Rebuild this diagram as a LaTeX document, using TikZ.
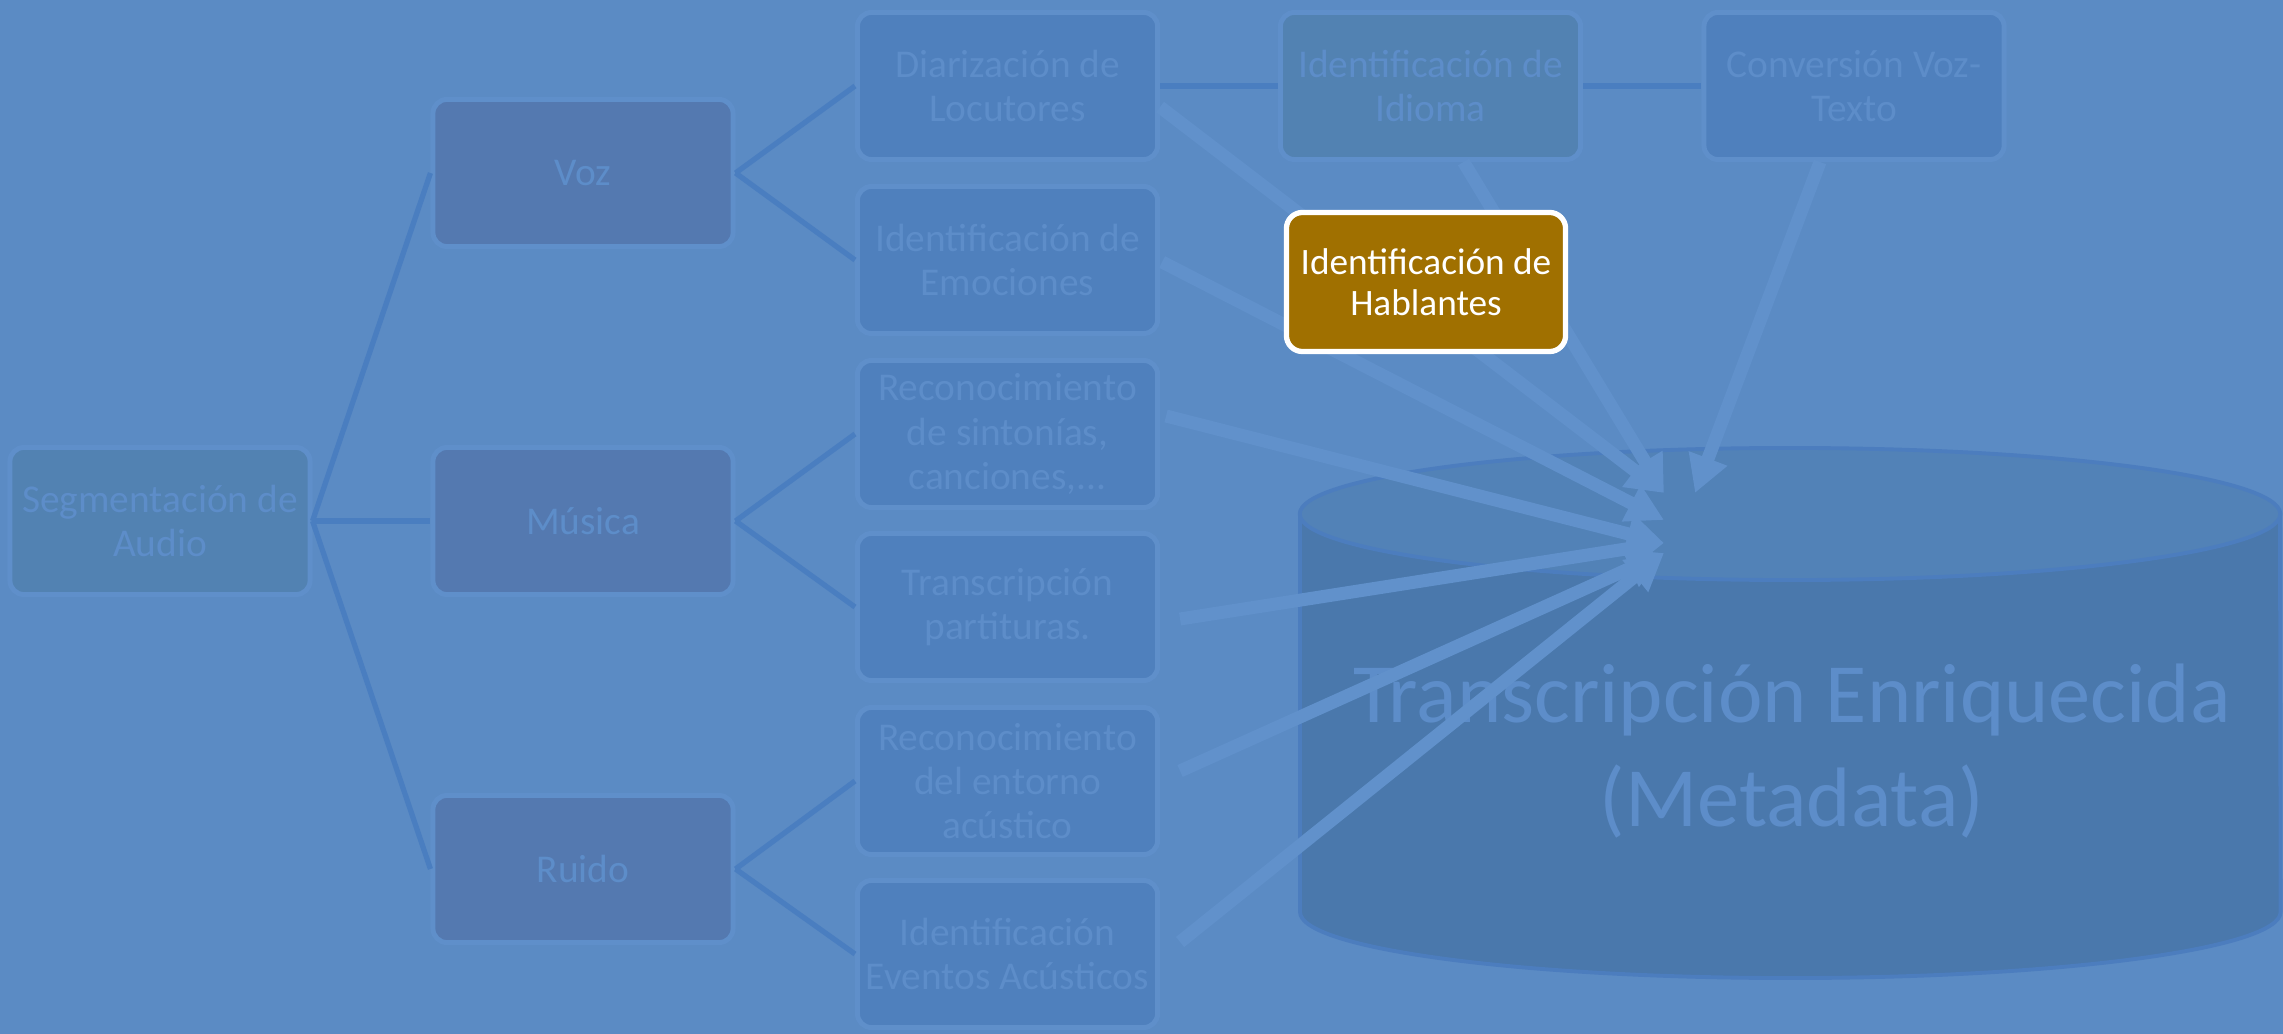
\documentclass[tikz,border=0pt]{standalone}
\usepackage{fontspec}
\setmainfont{Carlito}
\usetikzlibrary{arrows.meta,calc}

\definecolor{bg}{HTML}{5B8BC4}
\definecolor{ring}{HTML}{5F8FCA}
\definecolor{faded}{HTML}{5D8DC9}
\definecolor{tealbox}{HTML}{5282B2}
\definecolor{slatebox}{HTML}{5479B0}
\definecolor{bluebox}{HTML}{4F80BD}
\definecolor{link}{HTML}{4A7EC0}
\definecolor{flow}{HTML}{6191CB}
\definecolor{cyltop}{HTML}{5282B7}
\definecolor{cylside}{HTML}{4A78AC}
\definecolor{cylline}{HTML}{4C7DBE}
\definecolor{gold}{HTML}{A07000}

\tikzset{
  box/.style={rectangle, rounded corners=0.14cm, minimum width=3.0cm,
    minimum height=1.47cm, draw=ring, line width=1.4pt, align=center,
    text=faded, inner sep=0pt, font=\fontsize{11.2}{12.6}\selectfont},
  rootbox/.style={box, fill=tealbox},
  midbox/.style={box, fill=slatebox},
  leafbox/.style={box, fill=bluebox},
  treeline/.style={draw=link, line width=1.5pt},
  flowarrow/.style={draw=flow, line width=3.7pt,
    -{Triangle[length=10.5pt,width=11pt]}, fill=flow},
  focusbox/.style={rectangle, rounded corners=0.16cm, minimum width=2.79cm,
    minimum height=1.39cm, draw=white, line width=1.5pt, fill=gold,
    text=white, align=center, inner sep=0pt,
    font=\fontsize{10.6}{11.6}\selectfont}
}

\begin{document}
\begin{tikzpicture}[x=0.01cm, y=-0.01cm]
  % page background
  \fill[bg] (0,0) rectangle (2283,1034);
  \useasboundingbox (0,0) rectangle (2283,1034);

  % tree of segmentation tasks
  \node[rootbox] (seg) at (160,521) {Segmentación de\\Audio};
  \node[midbox] (voz) at (583,173) {Voz};
  \node[midbox] (mus) at (583,521) {Música};
  \node[midbox] (rui) at (583,869) {Ruido};

  \node[leafbox] (dia) at (1007.5,86)  {Diarización de\\Locutores};
  \node[leafbox] (emo) at (1007.5,260) {Identificación de\\Emociones};
  \node[leafbox] (sin) at (1007.5,434) {Reconocimiento\\de sintonías,\\canciones,...};
  \node[leafbox] (par) at (1007.5,607) {Transcripción\\partituras.};
  \node[leafbox] (ent) at (1007.5,781) {Reconocimiento\\del entorno\\acústico};
  \node[leafbox] (eve) at (1007.5,954) {Identificación\\Eventos Acústicos};

  \node[rootbox] (idi) at (1430.5,86) {Identificación de\\Idioma};
  \node[leafbox] (con) at (1854,86) {Conversión Voz-\\Texto};

  \draw[treeline] (seg.east) -- (voz.west);
  \draw[treeline] (seg.east) -- (mus.west);
  \draw[treeline] (seg.east) -- (rui.west);
  \draw[treeline] (voz.east) -- (dia.west);
  \draw[treeline] (voz.east) -- (emo.west);
  \draw[treeline] (mus.east) -- (sin.west);
  \draw[treeline] (mus.east) -- (par.west);
  \draw[treeline] (rui.east) -- (ent.west);
  \draw[treeline] (rui.east) -- (eve.west);
  \draw[treeline] (dia.east) -- (idi.west);
  \draw[treeline] (idi.east) -- (con.west);

  % storage cylinder
  \filldraw[fill=cylside, draw=cylline, line width=1.1pt]
    (1300,514) -- (1300,912)
    arc[start angle=180, end angle=360, x radius=4.9cm, y radius=0.66cm]
    -- (2280,514) -- cycle;
  \filldraw[fill=cyltop, draw=cylline, line width=1.1pt]
    (1790,514) ellipse[x radius=4.9cm, y radius=0.66cm];
  \node[text=faded, align=center, font=\fontsize{24}{29.5}\selectfont]
    (meta) at (1792,751) {Transcripción Enriquecida\\(Metadata)};

  % arrow targets on the cylinder lid
  \coordinate (tA) at (1664,493);
  \coordinate (tB) at (1695,493);
  \coordinate (tC) at (1664,520);
  \coordinate (tD) at (1664,543);
  \coordinate (tE) at (1664,553);

  \draw[flowarrow] ($(dia.east)+(0,21)$) -- (tA);
  \draw[flowarrow] ($(idi.south)+(33,0)$) -- (tA);
  \draw[flowarrow] ($(con.south)+(-34,0)$) -- (tB);
  \draw[flowarrow] ($(emo.east)+(2,2)$) -- (tC);
  \draw[flowarrow] ($(sin.east)+(6,-18)$) -- (tD);
  \draw[flowarrow] ($(par.east)+(20,12)$) -- (tD);
  \draw[flowarrow] ($(ent.east)+(20,-10)$) -- (tE);
  \draw[flowarrow] ($(eve.east)+(20,-12)$) -- (tE);

  % highlighted task on top of the arrows
  \node[focusbox] (hab) at (1426,282) {Identificación de\\Hablantes};
\end{tikzpicture}
\end{document}
